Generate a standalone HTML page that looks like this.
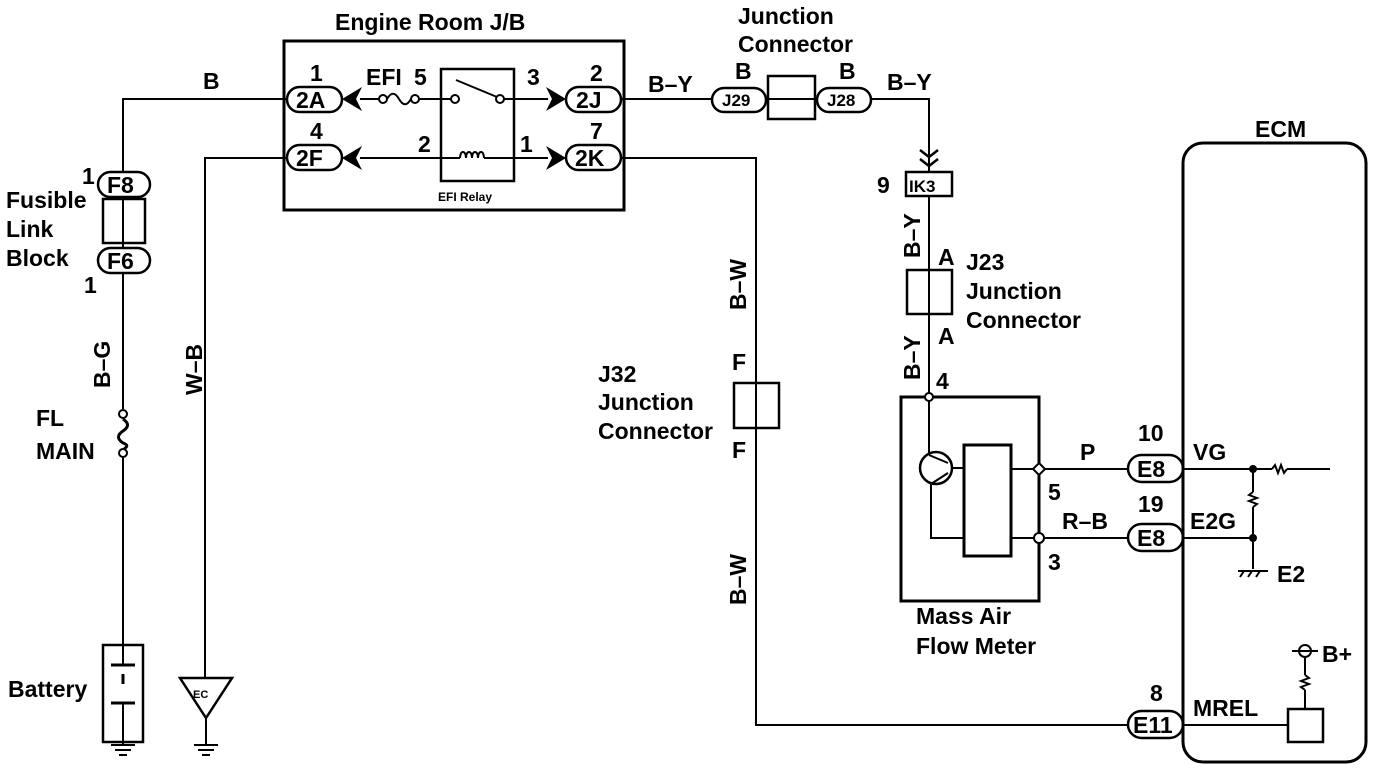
<!DOCTYPE html>
<html><head><meta charset="utf-8"><style>
html,body{margin:0;padding:0;background:#fff;}
svg{display:block;}
text{font-family:"Liberation Sans",Arial,sans-serif;fill:#000;font-weight:bold;}
</style></head><body>
<svg width="1376" height="770" viewBox="0 0 1376 770" xmlns="http://www.w3.org/2000/svg">
<g fill="none" stroke="#000" stroke-width="2">
<polyline points="286,99 123,99 123,172"/>
<rect x="98" y="172" width="52" height="25" rx="12.5" stroke-width="2.5"/>
<rect x="103" y="199" width="42" height="44" stroke-width="2.5"/>
<line x1="123" y1="197" x2="123" y2="248"/>
<rect x="98" y="248" width="52" height="25" rx="12.5" stroke-width="2.5"/>
<line x1="123" y1="273" x2="123" y2="409"/>
<circle cx="123" cy="414" r="4" fill="#fff"/>
<path d="M123,419 c6,4 6,8 0,12 c-6,4 -6,8 0,12 c6,2 4,4 0,7" stroke-width="3"/>
<circle cx="123" cy="453" r="4" fill="#fff"/>
<line x1="123" y1="457" x2="123" y2="665"/>
<rect x="103" y="645" width="40" height="97" stroke-width="2.5"/>
<line x1="111" y1="665" x2="135" y2="665" stroke-width="3"/>
<line x1="123" y1="674" x2="123" y2="684" stroke-width="3"/>
<line x1="111" y1="703" x2="135" y2="703" stroke-width="3"/>
<line x1="123" y1="703" x2="123" y2="745"/>
<line x1="111" y1="745" x2="135" y2="745"/>
<line x1="115" y1="750" x2="131" y2="750"/>
<line x1="119" y1="755" x2="127" y2="755"/>
<polyline points="286,158 205,158 205,678"/>
<polygon points="180,678 232,678 206,718" stroke-width="2.5"/>
<line x1="206" y1="718" x2="206" y2="745"/>
<line x1="194" y1="745" x2="218" y2="745"/>
<line x1="198" y1="750" x2="214" y2="750"/>
<line x1="202" y1="755" x2="210" y2="755"/>
<rect x="284" y="41" width="340" height="169" stroke-width="3"/>
<rect x="287" y="87" width="55" height="25" rx="12.5" stroke-width="2.5"/>
<rect x="287" y="145" width="55" height="25" rx="12.5" stroke-width="2.5"/>
<rect x="566" y="87" width="55" height="25" rx="12.5" stroke-width="2.5"/>
<rect x="566" y="145" width="55" height="25" rx="12.5" stroke-width="2.5"/>
<rect x="441" y="69" width="73" height="112" stroke-width="2.5"/>
<line x1="360" y1="99" x2="379" y2="99"/>
<circle cx="383" cy="99" r="4"/>
<path d="M387,99 c4,-7 8,-7 12,0 s8,7 12,0"/>
<circle cx="415" cy="99" r="4"/>
<line x1="419" y1="99" x2="451" y2="99"/>
<circle cx="455" cy="99" r="4"/>
<line x1="456" y1="80" x2="497" y2="97"/>
<circle cx="500" cy="99" r="4"/>
<line x1="504" y1="99" x2="548" y2="99"/>
<line x1="360" y1="158" x2="460" y2="158"/>
<path d="M460,158 c0,-8 6,-8 6,0 c0,-8 6,-8 6,0 c0,-8 6,-8 6,0 c0,-8 6,-8 6,0"/>
<line x1="484" y1="158" x2="548" y2="158"/>
<line x1="622" y1="99" x2="712" y2="99"/>
<rect x="712" y="88" width="54" height="24" rx="12" stroke-width="2.5"/>
<rect x="768" y="76" width="47" height="43" stroke-width="2.5"/>
<line x1="768" y1="99" x2="815" y2="99"/>
<rect x="817" y="88" width="54" height="24" rx="12" stroke-width="2.5"/>
<polyline points="871,99 929,99 929,172"/>
<polyline points="920,150 929,157 938,150" stroke-width="2.5"/>
<polyline points="920,159 929,166 938,159" stroke-width="2.5"/>
<rect x="906" y="172" width="46" height="24" stroke-width="2.5"/>
<line x1="929" y1="196" x2="929" y2="393"/>
<rect x="907" y="270" width="45" height="44" stroke-width="2.5"/>
<polyline points="622,158 756,158 756,725 1128,725"/>
<rect x="734" y="383" width="45" height="45" stroke-width="2.5"/>
<rect x="901" y="397" width="138" height="204" stroke-width="3"/>
<circle cx="929" cy="397" r="4" fill="#fff"/>
<line x1="929" y1="401" x2="929" y2="455"/>
<circle cx="936" cy="468" r="16" stroke-width="2.5"/>
<line x1="929" y1="455" x2="948" y2="463"/>
<line x1="948" y1="473" x2="931" y2="484"/>
<polyline points="931,484 931,538 964,538"/>
<line x1="952" y1="468" x2="964" y2="468"/>
<rect x="964" y="445" width="47" height="111" stroke-width="3"/>
<line x1="1011" y1="469" x2="1035" y2="469"/>
<line x1="1011" y1="538" x2="1035" y2="538"/>
<polygon points="1039,463 1045,469 1039,475 1033,469" fill="#fff"/>
<circle cx="1039" cy="538" r="5" fill="#fff"/>
<line x1="1045" y1="469" x2="1128" y2="469"/>
<line x1="1044" y1="538" x2="1128" y2="538"/>
<rect x="1128" y="455" width="55" height="27" rx="13.5" stroke-width="2.5"/>
<rect x="1128" y="524" width="55" height="27" rx="13.5" stroke-width="2.5"/>
<rect x="1128" y="711" width="55" height="27" rx="13.5" stroke-width="2.5"/>
<rect x="1183" y="143" width="183" height="619" rx="20" stroke-width="3"/>
<line x1="1183" y1="469" x2="1272" y2="469"/>
<path d="M1272,469 l3,-4 l3,8 l3,-8 l3,8 l3,-4"/>
<line x1="1287" y1="469" x2="1330" y2="469"/>
<line x1="1253" y1="469" x2="1253" y2="492"/>
<path d="M1253,492 l-4,3 l8,3 l-8,3 l8,3 l-4,3"/>
<line x1="1253" y1="507" x2="1253" y2="569"/>
<line x1="1183" y1="538" x2="1253" y2="538"/>
<line x1="1238" y1="571" x2="1268" y2="571"/>
<line x1="1240" y1="577" x2="1244" y2="571"/><line x1="1248" y1="577" x2="1252" y2="571"/><line x1="1256" y1="577" x2="1260" y2="571"/>
<line x1="1183" y1="725" x2="1288" y2="725"/>
<rect x="1288" y="709" width="35" height="33" stroke-width="2.5"/>
<line x1="1305" y1="709" x2="1305" y2="690"/>
<path d="M1305,690 l-4,-3 l8,-3 l-8,-3 l8,-3 l-4,-3"/>
<line x1="1305" y1="675" x2="1305" y2="657"/>
<circle cx="1305" cy="651" r="6"/>
<line x1="1292" y1="651" x2="1318" y2="651"/>
</g>
<g fill="#000">
<circle cx="1253" cy="469" r="4"/>
<circle cx="1253" cy="538" r="4"/>
<polygon points="342,99 362,87 356,99 362,111"/>
<polygon points="342,158 362,146 356,158 362,170"/>
<polygon points="566,99 546,87 552,99 546,111"/>
<polygon points="566,158 546,146 552,158 546,170"/>
</g>
<g font-size="23">
<text x="335" y="30">Engine Room J/B</text>
<text x="203" y="89">B</text>
<text x="82" y="184">1</text>
<text x="84" y="293">1</text>
<text x="6" y="208">Fusible</text>
<text x="6" y="237">Link</text>
<text x="6" y="266">Block</text>
<text x="36" y="426">FL</text>
<text x="36" y="459">MAIN</text>
<text x="8" y="697">Battery</text>
<text x="310" y="81">1</text>
<text x="310" y="139">4</text>
<text x="366" y="85">EFI</text>
<text x="414" y="85">5</text>
<text x="527" y="85">3</text>
<text x="418" y="152">2</text>
<text x="520" y="152">1</text>
<text x="590" y="81">2</text>
<text x="590" y="139">7</text>
<text x="648" y="92">B–Y</text>
<text x="738" y="24">Junction</text>
<text x="738" y="52">Connector</text>
<text x="735" y="79">B</text>
<text x="839" y="79">B</text>
<text x="887" y="90">B–Y</text>
<text x="877" y="193">9</text>
<text x="938" y="265">A</text>
<text x="938" y="344">A</text>
<text x="966" y="270">J23</text>
<text x="966" y="299">Junction</text>
<text x="966" y="328">Connector</text>
<text x="936" y="389">4</text>
<text x="732" y="370">F</text>
<text x="732" y="458">F</text>
<text x="598" y="382">J32</text>
<text x="598" y="410">Junction</text>
<text x="598" y="439">Connector</text>
<text x="1080" y="460">P</text>
<text x="1048" y="500">5</text>
<text x="1062" y="529">R–B</text>
<text x="1048" y="570">3</text>
<text x="1138" y="441">10</text>
<text x="1138" y="512">19</text>
<text x="1150" y="701">8</text>
<text x="1193" y="460">VG</text>
<text x="1190" y="529">E2G</text>
<text x="1277" y="582">E2</text>
<text x="1193" y="716">MREL</text>
<text x="1322" y="662">B+</text>
<text x="916" y="624">Mass Air</text>
<text x="916" y="654">Flow Meter</text>
<text x="1255" y="137">ECM</text>
<text x="296" y="108">2A</text>
<text x="296" y="166">2F</text>
<text x="576" y="108">2J</text>
<text x="575" y="166">2K</text>
<text x="107" y="193">F8</text>
<text x="107" y="269">F6</text>
<text x="1137" y="477">E8</text>
<text x="1137" y="546">E8</text>
<text x="1133" y="733">E11</text>
</g>
<g font-size="17">
<text x="722" y="106">J29</text>
<text x="827" y="106">J28</text>
<text x="909" y="192">IK3</text>
</g>
<text x="438" y="201" font-size="12">EFI Relay</text>
<text x="193" y="698" font-size="11">EC</text>
<g font-size="23">
<text transform="translate(110,388) rotate(-90)">B–G</text>
<text transform="translate(202,395) rotate(-90)">W–B</text>
<text transform="translate(746,310) rotate(-90)">B–W</text>
<text transform="translate(746,605) rotate(-90)">B–W</text>
<text transform="translate(920,258) rotate(-90)">B–Y</text>
<text transform="translate(920,380) rotate(-90)">B–Y</text>
</g>
</svg>
</body></html>
